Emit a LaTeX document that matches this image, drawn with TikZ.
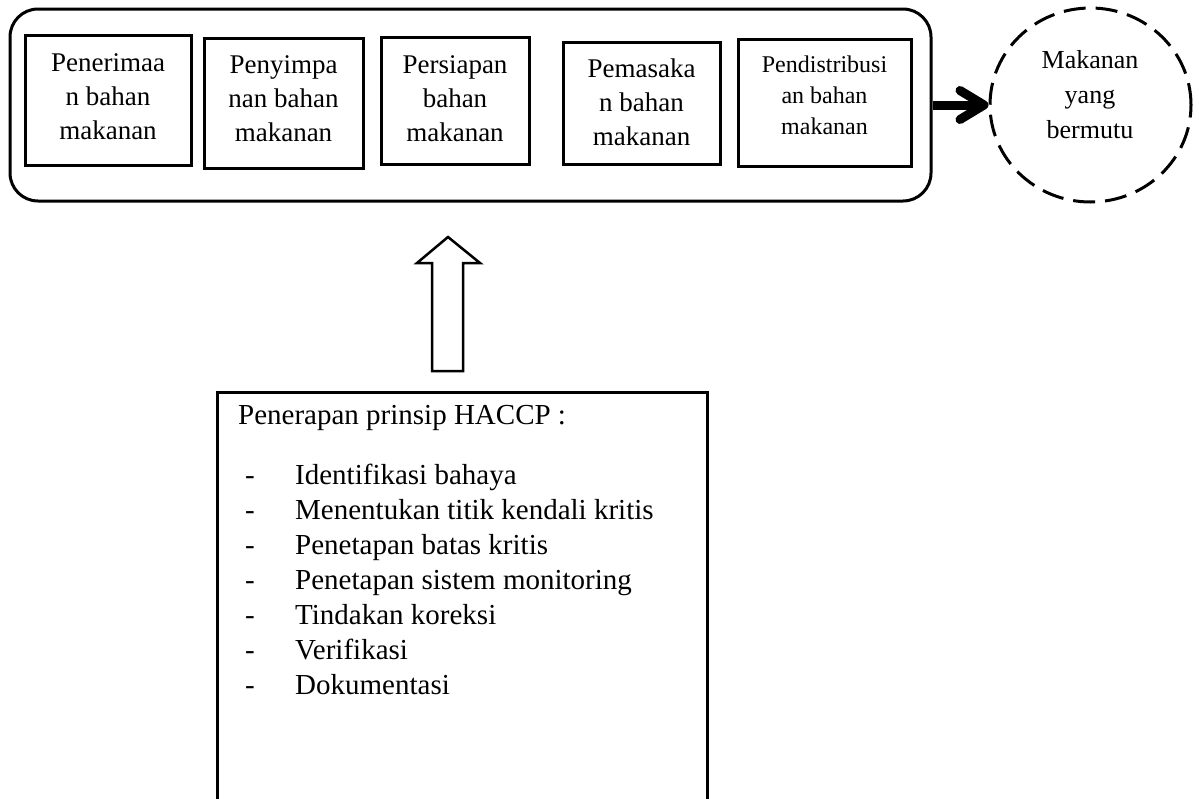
\documentclass[tikz,border=0pt]{standalone}
\usepackage{fontspec}
\setmainfont{Liberation Serif}
\usetikzlibrary{arrows.meta,shapes.geometric}
\begin{document}
\begin{tikzpicture}[x=1pt,y=-1pt,
  stepbox/.style={draw, line width=3pt, inner sep=0pt},
  boxtext/.style={inner sep=0pt, align=center, font=\fontsize{27}{34}\selectfont},
  smalltext/.style={inner sep=0pt, align=center, font=\fontsize{24}{31}\selectfont},
  listtext/.style={inner sep=0pt, anchor=base west, font=\fontsize{29}{35}\selectfont}]
\useasboundingbox (0,0) rectangle (1199,798);
% outer rounded frame
\node[stepbox, rounded corners=28pt, minimum width=921pt, minimum height=192pt] (outer) at (470.5,105) {};
% process boxes
\node[stepbox, minimum width=166pt, minimum height=130pt] (b1) at (108,100) {};
\node[stepbox, minimum width=159pt, minimum height=130pt] (b2) at (283.5,103) {};
\node[stepbox, minimum width=148pt, minimum height=127pt] (b3) at (455,100.5) {};
\node[stepbox, minimum width=157pt, minimum height=122pt] (b4) at (641.5,103) {};
\node[stepbox, minimum width=173pt, minimum height=127pt] (b5) at (824.5,102.5) {};
\node[boxtext] (t1) at (108,96.7) {Penerimaa\\n bahan\\makanan};
\node[boxtext] (t2) at (283.5,98.7) {Penyimpa\\nan bahan\\makanan};
\node[boxtext] (t3) at (455,98.7) {Persiapan\\bahan\\makanan};
\node[boxtext] (t4) at (641.5,102.7) {Pemasaka\\n bahan\\makanan};
\node[smalltext] (t5) at (824.5,94.8) {Pendistribusi\\an bahan\\makanan};
% goal
\node[ellipse, draw, line width=3pt, dash pattern=on 22pt off 10pt, minimum width=201pt, minimum height=194pt, inner sep=0pt] (goal) at (1090.5,105) {};
\node[inner sep=0pt, align=center, font=\fontsize{26}{35}\selectfont] (gt) at (1090,95) {Makanan\\yang\\bermutu};
\draw[line width=9pt, -{Straight Barb[length=24pt,width=29pt,round]}] (outer.east) -- (goal.west);
% hollow up arrow
\draw[line width=2.5pt, line join=miter] (448,237) -- (480,263) -- (463,263) -- (463,371) -- (432,371) -- (432,263) -- (417,263) -- cycle;
% HACCP box
\node[stepbox, anchor=north, minimum width=490pt, minimum height=450pt] (haccp) at (462,391) {};
\node[listtext] (h0) at (238,424) {Penerapan prinsip HACCP :};
\foreach \y/\t [count=\i] in {484/Identifikasi bahaya, 519/Menentukan titik kendali kritis, 554/Penetapan batas kritis, 589/Penetapan sistem monitoring, 624/Tindakan koreksi, 659/Verifikasi, 694/Dokumentasi}{
  \node[listtext] (d\i) at (245,\y) {-};
  \node[listtext] (h\i) at (295,\y) {\t};
}
\end{tikzpicture}
\end{document}
